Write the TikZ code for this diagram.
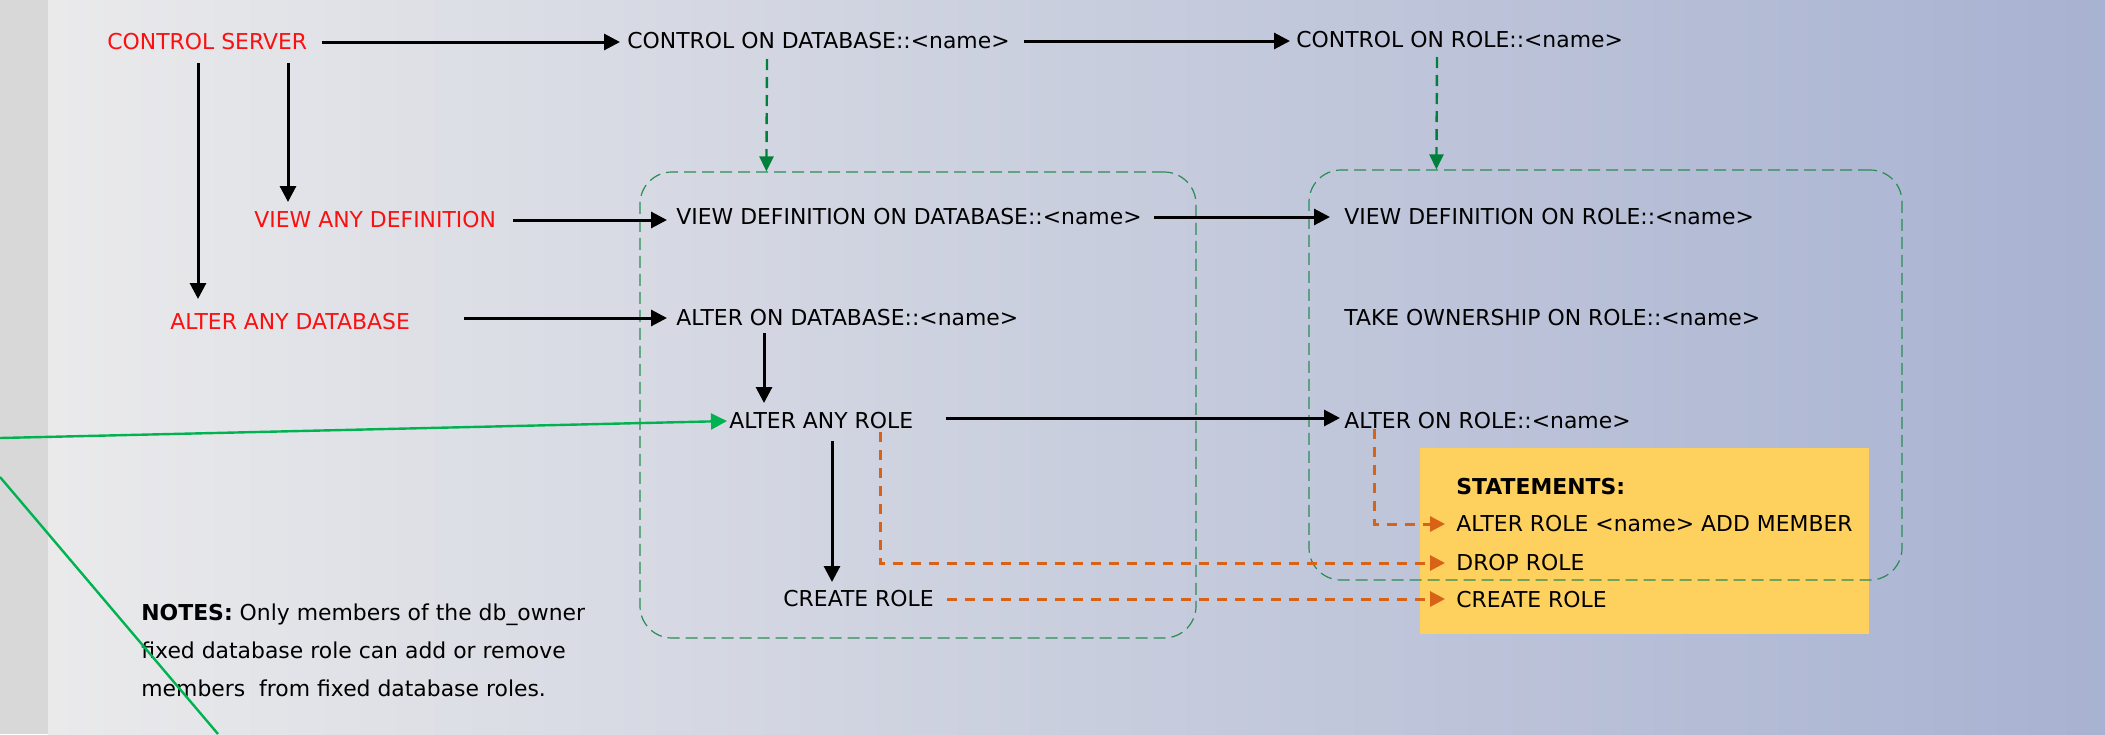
\documentclass[tikz,border=0pt]{standalone}
\usepackage{fontspec}
\setmainfont{DejaVu Sans}
\usetikzlibrary{arrows.meta,positioning,calc}
\definecolor{permred}{RGB}{250,16,16}
\definecolor{stripgray}{RGB}{216,216,216}
\definecolor{bgleft}{RGB}{234,234,235}
\definecolor{bgmid}{RGB}{186,191,215}
\definecolor{bgright}{RGB}{168,178,209}
\definecolor{scopegreen}{RGB}{42,140,84}
\definecolor{impliesgreen}{RGB}{0,128,58}
\definecolor{feedgreen}{RGB}{0,178,80}
\definecolor{grantorange}{RGB}{216,98,22}
\definecolor{stmtyellow}{RGB}{254,208,94}
\tikzstyle{perm}=[anchor=west,inner sep=0pt,text=black,font=\fontsize{10.95pt}{13pt}\selectfont]
\tikzstyle{server perm}=[perm,text=permred]
\tikzstyle{flow}=[-{Triangle[length=8pt,width=8pt]},line width=1.5pt,draw=black]
\tikzstyle{implies}=[-{Triangle[length=7.5pt,width=7pt]},line width=1.2pt,draw=impliesgreen,dash pattern=on 5.5pt off 3.5pt]
\tikzstyle{scope box}=[draw=scopegreen,line width=0.6pt,dash pattern=on 6pt off 3pt,rounded corners=16pt,inner sep=0pt]
\tikzstyle{stmt box}=[fill=stmtyellow,inner sep=0pt]
\tikzstyle{grants}=[-{Triangle[length=7.5pt,width=7.5pt]},line width=1.5pt,draw=grantorange,dash pattern=on 5pt off 4pt]
\tikzstyle{feeds}=[line width=1.2pt,draw=feedgreen]
\begin{document}
\begin{tikzpicture}[x=0.5pt,y=-0.5pt]

\useasboundingbox (0,0) rectangle (2105,734) ;
\fill [stripgray] (0,0) rectangle (48,734) ;
\shade [left color=bgleft,middle color=bgmid,right color=bgright] (48,0) rectangle (2105,734) ;

% statements box sits under the role scope
\node (stbox) [stmt box,minimum width=224.5pt,minimum height=93pt] at (1644.5,541) {} ;
\node (dbbox) [scope box,minimum width=278pt,minimum height=233pt] at (918,405) {} ;
\node (rolebox) [scope box,minimum width=296.5pt,minimum height=205pt] at (1605.5,375) {} ;

% server level
\node (cs) [server perm] at (107,42) {CONTROL SERVER} ;
\node (vad) [server perm] at (254,220) {VIEW ANY DEFINITION} ;
\node (aad) [server perm] at (170,322) {ALTER ANY DATABASE} ;

% database level
\node (codb) [perm] at (627,41) {CONTROL ON DATABASE::<name>} ;
\node (vdodb) [perm] at (676,217) {VIEW DEFINITION ON DATABASE::<name>} ;
\node (aodb) [perm] at (676,318) {ALTER ON DATABASE::<name>} ;
\node (aar) [perm] at (729,421) {ALTER ANY ROLE} ;
\node (crl) [perm] at (783,599) {CREATE ROLE} ;

% role level
\node (cor) [perm] at (1296,40) {CONTROL ON ROLE::<name>} ;
\node (vdor) [perm] at (1344,217) {VIEW DEFINITION ON ROLE::<name>} ;
\node (tor) [perm] at (1344,318) {TAKE OWNERSHIP ON ROLE::<name>} ;
\node (aor) [perm] at (1344,421) {ALTER ON ROLE::<name>} ;

% statements
\node (sttitle) [perm] at (1456,487) {\textbf{STATEMENTS:}} ;
\node (s1) [perm] at (1456,524) {ALTER ROLE <name> ADD MEMBER} ;
\node (s2) [perm] at (1456,563) {DROP ROLE} ;
\node (s3) [perm] at (1456,600) {CREATE ROLE} ;

\node (notes) [perm,align=left,font=\fontsize{10.95pt}{19pt}\selectfont] at (141,650) {\textbf{NOTES:} Only members of the db\_owner\\fixed database role can add or remove\\members\ \ from fixed database roles.} ;

\coordinate (memberfeed) at (0,438) ;
\coordinate (rolefeedin) at (0,477) ;
\coordinate (rolefeedout) at (218,734) ;

\draw [flow,shorten <=7pt,shorten >=3.5pt] (cs.east) -- (cs.east -| codb.west) ;
\draw [flow,shorten <=7pt,shorten >=3pt] (codb.east) -- (codb.east -| cor.west) ;
\draw [flow] ($(cs.west)+(91,21)$) -- ($(aad.west)+(28,-23)$) ;
\draw [flow] ($(cs.west)+(181,21)$) -- ($(vad.west)+(34,-18)$) ;
\draw [flow,shorten <=8.5pt,shorten >=4.5pt] (vad.east) -- (vad.east -| vdodb.west) ;
\draw [flow,shorten <=6pt,shorten >=7pt] (vdodb.east) -- (vdor.west) ;
\draw [flow,shorten <=27pt,shorten >=4.5pt] (aad.east |- aodb.west) -- (aodb.west) ;
\draw [flow] ($(aodb.west)+(88,15)$) -- ($(aar.west)+(35,-18)$) ;
\draw [flow,shorten <=16pt,shorten >=2pt] ($(aar.east)+(0,-3)$) -- ($(aor.west)+(0,-3)$) ;
\draw [flow] ($(aar.west)+(103,20)$) -- ($(crl.west)+(49,-17)$) ;

\draw [implies] ($(codb.west)+(140,18)$) -- ($(dbbox.north west)+(127,0)$) ;
\draw [implies] ($(cor.west)+(141,17)$) -- ($(rolebox.north west)+(128,0)$) ;

\draw [grants,shorten >=5.5pt] ($(aar.west)+(151,11)$) |- (s2.west) ;
\draw [grants,shorten >=5.5pt] ($(aor.west)+(30,8)$) |- (s1.west) ;
\draw [grants,shorten <=6.5pt,shorten >=5.5pt] (crl.east) -- (crl.east -| s3.west) ;

\draw [feeds,-{Triangle[length=8pt,width=8pt]},shorten >=1pt] (memberfeed) -- (aar.west) ;
\draw [feeds] (rolefeedin) -- (rolefeedout) ;

\end{tikzpicture}
\end{document}
